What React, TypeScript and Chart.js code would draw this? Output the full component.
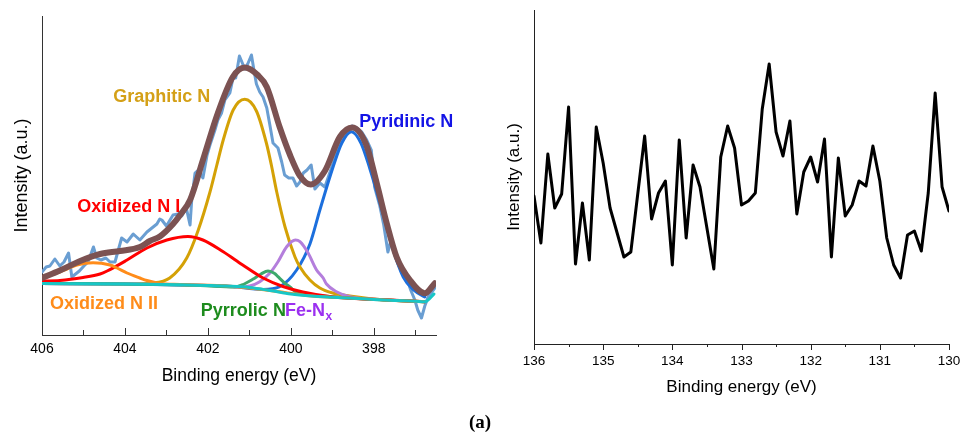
import React, { useEffect, useRef } from 'react';
import { Chart, registerables } from 'chart.js';
Chart.register(...registerables);

const FONT = "'Liberation Sans', Arial, Helvetica, sans-serif";

// ---------- Left panel: N 1s ----------
const rawEV = [406.00,405.90,405.81,405.69,405.57,405.47,405.36,405.28,405.10,404.99,404.89,404.76,404.68,404.58,404.46,404.36,404.24,404.08,403.95,403.80,403.64,403.47,403.32,403.23,403.16,403.11,403.00,402.84,402.72,402.63,402.52,402.43,402.39,402.31,402.23,402.12,402.02,401.95,401.83,401.76,401.67,401.59,401.47,401.39,401.33,401.24,401.18,401.11,401.04,400.95,400.89,400.83,400.75,400.67,400.58,400.51,400.43,400.31,400.22,400.15,400.05,399.95,399.86,399.78,399.70,399.61,399.51,399.42,399.30,399.18,399.08,398.98,398.87,398.74,398.63,398.53,398.41,398.29,398.17,398.06,397.98,397.86,397.76,397.66,397.57,397.45,397.33,397.21,397.11,397.01,396.94,396.85,396.77,396.69,396.60,396.53];
const rawI = [63,68,69,76,69,73,82,58,64,69,73,88,77,75,77,73,73,97,93,101,95,103,108,111,116,115,109,120,121,119,127,110,135,162,165,157,180,190,205,215,222,235,242,258,257,279,273,266,271,280,265,251,243,238,227,211,192,187,173,160,157,157,149,153,162,165,170,146,152,148,160,172,185,198,205,209,207,203,195,185,148,130,110,83,97,75,63,57,45,35,25,17,29,38,43,47];

const envEV = [406.00,405.57,405.08,404.60,404.12,403.64,403.40,403.16,402.84,402.67,402.43,402.12,401.76,401.40,401.11,400.80,400.58,400.27,400.02,399.78,399.52,399.18,398.82,398.52,398.18,397.93,397.69,397.45,397.13,396.77,396.53];
const envI = [57,64.5,74,81,84,88,94,98.5,111,120,135,175,222,258,267.5,260,248,208,180,159,150.5,164,198,207.5,190,152,112,78,55,41.7,51.7];

const graphiticEV = [406.00,404.00,403.33,402.92,402.51,402.24,401.95,401.79,401.63,401.39,401.11,400.83,400.59,400.47,400.34,400.14,399.90,399.78,399.54,399.30,398.99,398.58,397.86,396.77];
const graphiticI = [51.5,51,52,57,77,104,143,169,195,225,235.7,224,192,170,143,108,78,68,55,47,42,39,35.5,33.3];

const pyridinicEV = [406.00,404.00,402.00,401.47,400.67,400.27,399.86,399.54,399.30,398.98,398.77,398.54,398.31,398.10,397.77,397.54,397.29,397.04,396.77];
const pyridinicI = [51.5,51,49.5,48.7,45.5,48.3,65,91,125,168.3,192,203.3,192,167,120,86,58,45,38];

const oxid1EV = [406.00,405.57,405.01,404.60,404.43,403.95,403.47,402.99,402.48,402.12,401.64,401.16,400.67,400.19,399.71,398.99,397.86,396.77];
const oxid1I = [54,54.5,57.5,61,64,75,87,95,98.5,95,83.5,70,57,48.5,43,38,35.5,33.3];

const oxid2EV = [406.00,405.57,405.40,405.16,404.77,404.36,404.19,403.95,403.64,403.47,403.16,402.67,401.47,400.50,399.50,398.50,397.50,396.77];
const oxid2I = [57.5,63,66,70,72.3,70,67,62,57,54.5,51.5,50.5,48.8,44.5,39,36.8,34.5,33.3];

const pyrrolicEV = [406.00,404.00,402.19,401.35,401.18,400.92,400.72,400.55,400.39,400.31,400.14,400.02,399.88,399.06,398.00,396.77];
const pyrrolicI = [51.5,51,49.5,48,50,55.7,61,64,61.5,58.3,51.7,48,43,38.5,35.5,33.3];

const feNxEV = [406.00,404.00,402.00,401.23,400.99,400.75,400.51,400.31,400.10,399.89,399.78,399.58,399.38,399.22,399.14,398.90,398.58,397.86,396.77];
const feNxI = [51.5,51,49.5,48,49,53.3,61.7,73.3,88.3,95,93.3,81.7,65,57,51,43.3,38.3,35.5,33.3];

const bgEV = [406.00,404.00,403.00,402.50,402.00,401.50,401.00,400.50,400.00,399.50,399.00,398.50,398.00,397.50,397.00,396.77,396.55];
const bgI = [51.5,51,50.5,50,49.5,48.8,47.5,44.5,41,39,37.8,36.8,35.5,34.5,33.8,33.3,41];

const leftTitleX = 'Binding energy (eV)';
const leftTitleY = 'Intensity (a.u.)';

// peak labels (data coordinates)
const labelText = ['Graphitic N', 'Pyridinic N', 'Oxidized N I', 'Oxidized N II', 'Pyrrolic N', 'Fe-N'];
const labelSub = ['', '', '', '', '', 'x'];
const labelEV = [404.28, 398.35, 405.15, 405.81, 402.17, 400.14];
const labelI = [238.3, 213, 128.3, 31, 24, 24];
const labelColor = ['#D4A017', '#1414E6', '#FF0000', '#FF8C1A', '#1E8C1E', '#9B30F0'];

// ---------- Right panel ----------
const sEV = [136.0,135.9,135.8,135.7,135.6,135.5,135.4,135.3,135.2,135.1,135.0,134.9,134.7,134.6,134.4,134.3,134.2,134.1,134.0,133.9,133.8,133.7,133.6,133.4,133.3,133.2,133.1,133.0,132.9,132.8,132.7,132.6,132.5,132.4,132.3,132.2,132.1,132.0,131.9,131.8,131.7,131.6,131.5,131.4,131.3,131.2,131.1,131.0,130.9,130.8,130.7,130.6,130.5,130.4,130.3,130.2,130.1,130.0];
const sI = [148,101,190,136,150,237,80,141,84,217,181,136,87,92,208,125,151,163,79,204,106,179,157,75,187,218,196,139,143,151,235,280,212,188,223,130,172,187,162,205,87,186,128,139,163,158,198,163,106,79,66,109,113,93,151,251,157,133];

const zip = (xs: number[], ys: number[]) => xs.map((x, i) => ({ x, y: ys[i] }));

const tickMarks = {
  id: 'tickMarks',
  afterDraw(chart: any, _args: any, opts: any) {
    const s = chart.scales.x;
    const ctx = chart.ctx;
    ctx.save();
    ctx.strokeStyle = opts.color || '#333';
    ctx.lineWidth = 1;
    for (const t of s.ticks) {
      const r = t.value / opts.majorEvery;
      const major = Math.abs(r - Math.round(r)) < 1e-6;
      const len = major ? opts.major : opts.minor;
      const px = Math.round(s.getPixelForValue(t.value)) + 0.5;
      ctx.beginPath();
      ctx.moveTo(px, s.top);
      ctx.lineTo(px, s.top + opts.dir * len);
      ctx.stroke();
    }
    ctx.restore();
  },
};

const peakLabels = {
  id: 'peakLabels',
  afterDatasetsDraw(chart: any, _args: any, opts: any) {
    if (!opts.enabled) return;
    const ctx = chart.ctx;
    const xs = chart.scales.x;
    const ys = chart.scales.y;
    ctx.save();
    ctx.textBaseline = 'middle';
    ctx.textAlign = 'left';
    labelText.forEach((txt, i) => {
      const px = xs.getPixelForValue(labelEV[i]);
      const py = ys.getPixelForValue(labelI[i]);
      ctx.fillStyle = labelColor[i];
      ctx.font = `bold 18px ${FONT}`;
      ctx.fillText(txt, px, py);
      if (labelSub[i]) {
        const w = ctx.measureText(txt).width;
        ctx.font = `bold 12px ${FONT}`;
        ctx.fillText(labelSub[i], px + w + 0.5, py + 6);
      }
    });
    ctx.restore();
  },
};

function line(data: any, color: string, width: number, order: number, smooth: boolean) {
  return {
    data,
    borderColor: color,
    backgroundColor: color,
    borderWidth: width,
    pointRadius: 0,
    fill: false,
    order,
    tension: smooth ? 0.4 : 0,
    cubicInterpolationMode: smooth ? 'monotone' : 'default',
    borderJoinStyle: 'round',
    borderCapStyle: 'round',
  };
}

function LeftChart() {
  const ref = useRef<HTMLCanvasElement | null>(null);
  useEffect(() => {
    const chart = new Chart(ref.current as HTMLCanvasElement, {
      type: 'line',
      data: {
        datasets: [
          line(zip(envEV, envI), '#7C5252', 6, 0, true),
          line(zip(bgEV, bgI), '#17C6C6', 3, 1, true),
          line(zip(oxid2EV, oxid2I), '#FF8C1A', 3, 2, true),
          line(zip(oxid1EV, oxid1I), '#FF0000', 3, 2, true),
          line(zip(pyrrolicEV, pyrrolicI), '#3DA86C', 3, 2, true),
          line(zip(feNxEV, feNxI), '#B47EDC', 3, 2, true),
          line(zip(graphiticEV, graphiticI), '#D4A106', 3, 2, true),
          line(zip(pyridinicEV, pyridinicI), '#1C6FDD', 3, 2, true),
          line(zip(rawEV, rawI), '#6A9ED2', 3, 3, false),
        ] as any,
      },
      options: {
        animation: false,
        responsive: false,
        events: [],
        layout: { padding: { top: 16, right: 44, left: 0, bottom: 0 } },
        plugins: {
          legend: { display: false },
          tooltip: { enabled: false },
          tickMarks: { dir: -1, major: 7, minor: 5, majorEvery: 2, color: '#333' },
          peakLabels: { enabled: true },
        } as any,
        scales: {
          x: {
            type: 'linear', reverse: true, min: 396.5, max: 406,
            ticks: {
              stepSize: 1, autoSkip: false, includeBounds: false, maxRotation: 0, padding: 5.6,
              color: '#000', font: { size: 14, family: FONT },
              callback: (v: any) => (Math.abs(v % 2) < 1e-6 ? String(v) : ''),
            },
            grid: { display: false, drawTicks: false },
            border: { display: true, color: '#333', width: 1 },
            title: { display: true, text: leftTitleX, color: '#000', font: { size: 17.5, family: FONT }, padding: { top: 0, bottom: 13.5 } },
            afterFit: (s: any) => { s.height = 65; },
          },
          y: {
            min: 0, max: 319,
            ticks: { display: false },
            grid: { display: false, drawTicks: false },
            border: { display: true, color: '#333', width: 1 },
            title: { display: true, text: leftTitleY, color: '#000', font: { size: 18, family: FONT }, padding: { top: 11, bottom: 0 } },
            afterFit: (s: any) => { s.width = 42; },
          },
        } as any,
      },
      plugins: [tickMarks, peakLabels],
    } as any);
    return () => chart.destroy();
  }, []);
  return <canvas ref={ref} width={480} height={400} style={{ position: 'absolute', left: 0, top: 0 }} />;
}

function RightChart() {
  const ref = useRef<HTMLCanvasElement | null>(null);
  useEffect(() => {
    const chart = new Chart(ref.current as HTMLCanvasElement, {
      type: 'line',
      data: {
        datasets: [line(zip(sEV, sI), '#000000', 3, 0, false)] as any,
      },
      options: {
        animation: false,
        responsive: false,
        events: [],
        layout: { padding: { top: 10, right: 31, left: 0, bottom: 0 } },
        plugins: {
          legend: { display: false },
          tooltip: { enabled: false },
          tickMarks: { dir: 1, major: 6, minor: 3, majorEvery: 1, color: '#222' },
          peakLabels: { enabled: false },
        } as any,
        scales: {
          x: {
            type: 'linear', reverse: true, min: 130, max: 136,
            ticks: {
              stepSize: 0.5, autoSkip: false, includeBounds: false, maxRotation: 0, padding: 9.2,
              color: '#000', font: { size: 13.5, family: FONT },
              callback: (v: any) => (Math.abs(v % 1) < 1e-6 ? String(v) : ''),
            },
            grid: { display: false, drawTicks: false },
            border: { display: true, color: '#222', width: 1 },
            title: { display: true, text: 'Binding energy (eV)', color: '#000', font: { size: 17, family: FONT }, padding: { top: 0, bottom: 22 } },
            afterFit: (s: any) => { s.height = 76; },
          },
          y: {
            min: 0, max: 334,
            ticks: { display: false },
            grid: { display: false, drawTicks: false },
            border: { display: true, color: '#222', width: 1 },
            title: { display: true, text: 'Intensity (a.u.)', color: '#000', font: { size: 17, family: FONT }, padding: { top: 24, bottom: 0 } },
            afterFit: (s: any) => { s.width = 54; },
          },
        } as any,
      },
      plugins: [tickMarks, peakLabels],
    } as any);
    return () => chart.destroy();
  }, []);
  return <canvas ref={ref} width={500} height={420} style={{ position: 'absolute', left: 480, top: 0 }} />;
}

export default function App() {
  return (
    <div style={{ position: 'fixed', left: 0, top: 0, width: 960, height: 436, overflow: 'hidden', background: '#fff' }}>
      <LeftChart />
      <RightChart />
      <div
        style={{
          position: 'absolute', left: 0, top: 410, width: 960, textAlign: 'center',
          fontFamily: "'Liberation Serif', 'DejaVu Serif', serif", fontWeight: 'bold', fontSize: 19, lineHeight: '24px', color: '#000',
        }}
      >
        (a)
      </div>
    </div>
  );
}
